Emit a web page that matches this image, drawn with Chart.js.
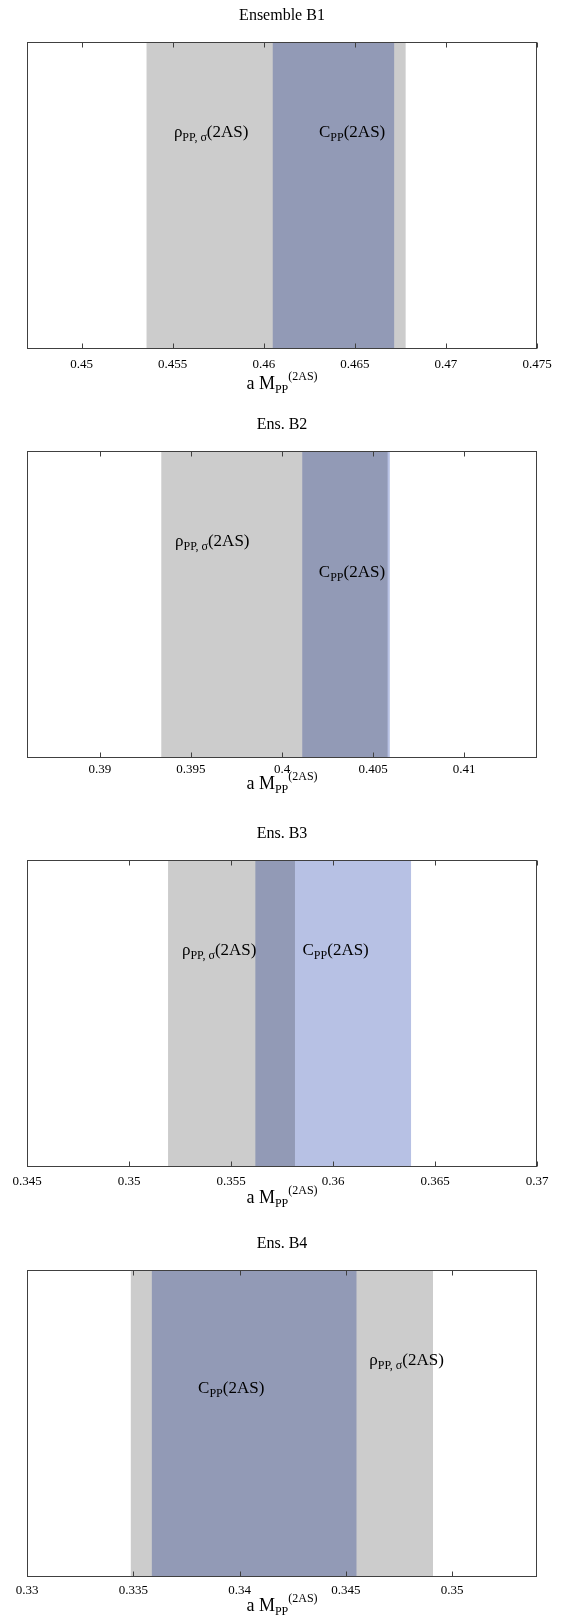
<!DOCTYPE html>
<html>
<head>
<meta charset="utf-8">
<script src="https://cdn.jsdelivr.net/npm/chart.js@4"></script>
<style>
  html, body { margin: 0; background: #fff; overflow: hidden; }
  #wrap { position: relative; width: 561px; height: 1617px; overflow: hidden; }
  .panel { position: absolute; left: 0; width: 561px; height: 409px; }
</style>
</head>
<body>
<div id="wrap"></div>
<script>
// --- data ---
const titles = ['Ensemble B1', 'Ens. B2', 'Ens. B3', 'Ens. B4'];
const rhoLow  = [0.45358, 0.39339, 0.35193, 0.33490];
const rhoHigh = [0.46777, 0.40578, 0.35812, 0.34909];
const cppLow  = [0.46051, 0.40113, 0.35621, 0.33589];
const cppHigh = [0.46714, 0.40590, 0.36381, 0.34549];
const axisMin = [0.447, 0.386, 0.345, 0.330];
const axisMax = [0.475, 0.414, 0.370, 0.354];
const tickVals = [
    [0.45, 0.455, 0.46, 0.465, 0.47, 0.475],
    [0.39, 0.395, 0.4, 0.405, 0.41],
    [0.345, 0.35, 0.355, 0.36, 0.365, 0.37],
    [0.33, 0.335, 0.34, 0.345, 0.35]
];
// text anchors (x in axis units, y as fraction of the box height)
const rhoTextX = [0.45711, 0.39617, 0.35442, 0.34786];
const rhoTextY = [0.69, 0.69, 0.69, 0.69];
const cppTextX = [0.46485, 0.40384, 0.36013, 0.33961];
const cppTextY = [0.69, 0.59, 0.69, 0.60];

const SERIF = '"Liberation Serif", "DejaVu Serif", serif';
const panelTop = [0, 409, 818, 1228];
const tickPad = [8, 4, 7, 6];
const xTitleGap = [40, 31, 36, 34];

// write a run of text pieces (normal / sub / sup) one after the other
function drawRuns(ctx, runs, x, y) {
    let w = 0;
    runs.forEach(r => {
        ctx.font = r.size + 'px ' + SERIF;
        r.w = ctx.measureText(r.t).width;
        w += r.w;
    });
    let cx = x - w / 2;
    ctx.textAlign = 'left';
    ctx.textBaseline = 'alphabetic';
    ctx.fillStyle = '#000';
    runs.forEach(r => {
        ctx.font = r.size + 'px ' + SERIF;
        ctx.fillText(r.t, cx, y + r.dy);
        cx += r.w;
    });
}

const rhoRuns = () => [{t: 'ρ', size: 17, dy: 0}, {t: 'PP, σ', size: 12, dy: 4}, {t: '(2AS)', size: 17, dy: 0}];
const cppRuns = () => [{t: 'C', size: 17, dy: 0}, {t: 'PP', size: 12, dy: 4}, {t: '(2AS)', size: 17, dy: 0}];
const axisRuns = () => [{t: 'a M', size: 18, dy: 0}, {t: 'PP', size: 12, dy: 4}, {t: '(2AS)', size: 12, dy: -9}];

// overlap of the two bands darkens like a multiply
const blendPlugin = {
    id: 'blend',
    beforeDatasetsDraw(chart) { chart.ctx.save(); chart.ctx.globalCompositeOperation = 'multiply'; },
    afterDatasetsDraw(chart) { chart.ctx.restore(); }
};

const framePlugin = {
    id: 'frame',
    afterDraw(chart) {
        const i = chart.options.plugins.frame.idx;
        const ctx = chart.ctx;
        const a = chart.chartArea;
        const sx = chart.scales.x;
        const l = Math.round(a.left) + 0.5, r = Math.round(a.right) - 0.5;
        const t = Math.round(a.top) + 0.5, b = Math.round(a.bottom) - 0.5;
        ctx.save();
        ctx.strokeStyle = '#404040';
        ctx.lineWidth = 1;
        ctx.strokeRect(l, t, r - l, b - t);
        // inward ticks, top and bottom
        ctx.beginPath();
        sx.ticks.forEach(tk => {
            const px = Math.round(sx.getPixelForValue(tk.value)) + 0.5;
            ctx.moveTo(px, b); ctx.lineTo(px, b - 5);
            ctx.moveTo(px, t); ctx.lineTo(px, t + 5);
        });
        ctx.stroke();
        // title
        ctx.fillStyle = '#000';
        ctx.font = '16px ' + SERIF;
        ctx.textAlign = 'center';
        ctx.textBaseline = 'middle';
        ctx.fillText(titles[i], (a.left + a.right) / 2, a.top - 26);
        // axis title
        drawRuns(ctx, axisRuns(), (a.left + a.right) / 2, a.bottom + xTitleGap[i]);
        // band labels (y anchor = baseline)
        const h = a.bottom - a.top;
        drawRuns(ctx, rhoRuns(), sx.getPixelForValue(rhoTextX[i]), a.bottom - rhoTextY[i] * h);
        drawRuns(ctx, cppRuns(), sx.getPixelForValue(cppTextX[i]), a.bottom - cppTextY[i] * h);
        ctx.restore();
    }
};

const wrap = document.getElementById('wrap');
titles.forEach((title, i) => {
    const div = document.createElement('div');
    div.className = 'panel';
    div.style.top = panelTop[i] + 'px';
    const canvas = document.createElement('canvas');
    canvas.width = 561;
    canvas.height = 409;
    div.appendChild(canvas);
    wrap.appendChild(div);

    new Chart(canvas, {
        type: 'bar',
        data: {
            labels: [''],
            datasets: [
                {
                    label: 'rho',
                    data: [[rhoLow[i], rhoHigh[i]]],
                    backgroundColor: '#cccccc',
                    borderWidth: 0,
                    grouped: false,
                    categoryPercentage: 1,
                    barPercentage: 1
                },
                {
                    label: 'Cpp',
                    data: [[cppLow[i], cppHigh[i]]],
                    backgroundColor: '#b7c1e4',
                    borderWidth: 0,
                    grouped: false,
                    categoryPercentage: 1,
                    barPercentage: 1
                }
            ]
        },
        options: {
            indexAxis: 'y',
            responsive: false,
            animation: false,
            layout: { padding: { left: 27, right: 24, top: 42, bottom: 40 } },
            plugins: {
                legend: { display: false },
                tooltip: { enabled: false },
                frame: { idx: i }
            },
            scales: {
                x: {
                    type: 'linear',
                    min: axisMin[i],
                    max: axisMax[i],
                    grid: { display: false, drawTicks: false },
                    border: { display: false },
                    afterBuildTicks: s => { s.ticks = tickVals[i].map(v => ({ value: v })); },
                    afterFit: s => { s.height = 20; },
                    ticks: {
                        padding: tickPad[i],
                        color: '#000',
                        autoSkip: false,
                        maxRotation: 0,
                        font: { family: SERIF, size: 13 },
                        callback: v => String(+Number(v).toFixed(4))
                    }
                },
                y: { display: false }
            }
        },
        plugins: [blendPlugin, framePlugin]
    });
});
</script>
</body>
</html>
